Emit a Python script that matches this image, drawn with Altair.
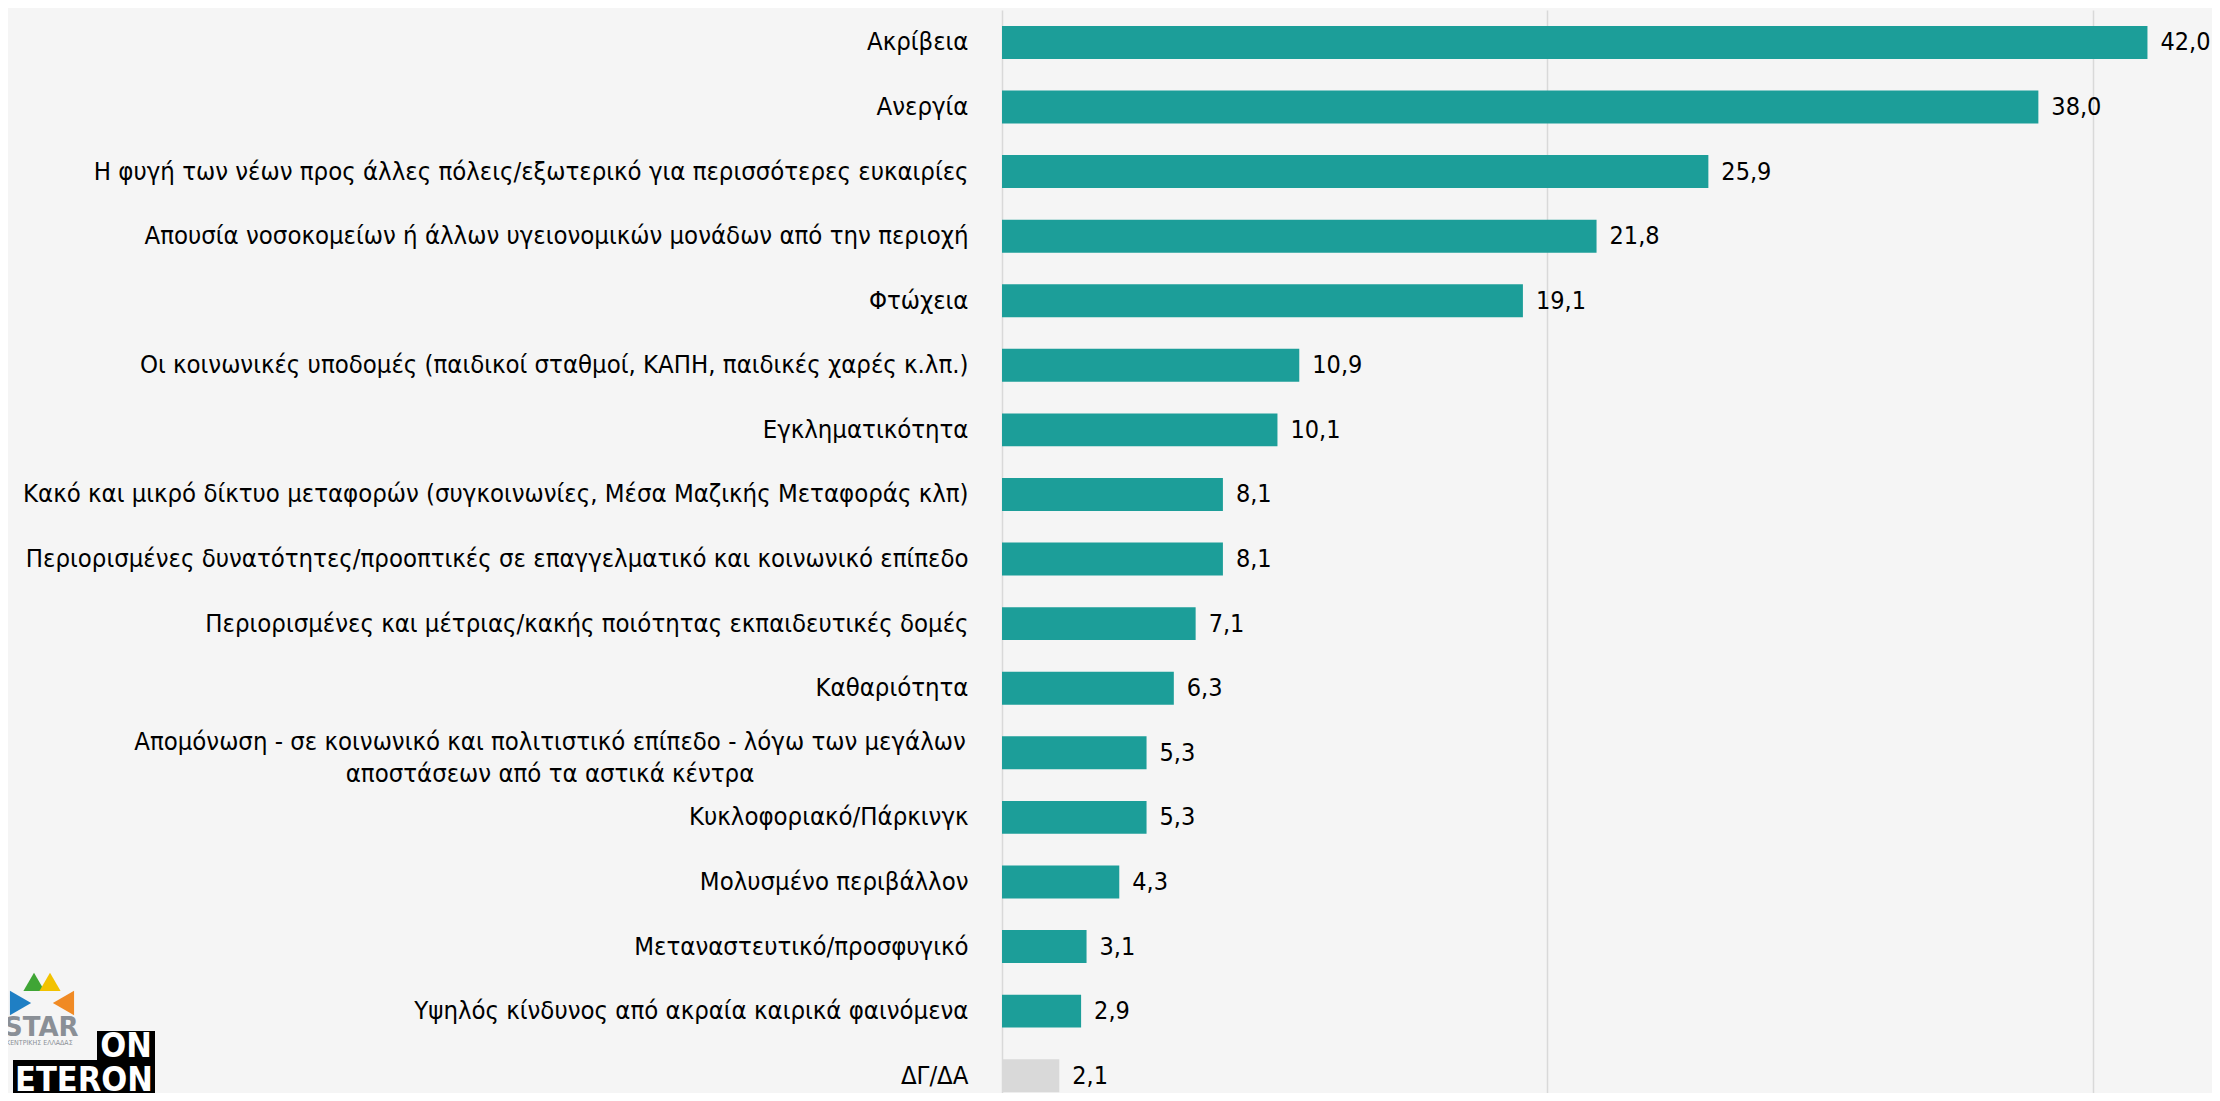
import altair as alt
import pandas as pd

categories = [
    "Ακρίβεια",
    "Ανεργία\u00a0\u00a0",
    "Η φυγή των νέων προς άλλες πόλεις/εξωτερικό για περισσότερες ευκαιρίες",
    "Απουσία νοσοκομείων ή άλλων υγειονομικών μονάδων από την περιοχή\u00a0",
    "Φτώχεια",
    "Οι κοινωνικές υποδομές (παιδικοί σταθμοί, ΚΑΠΗ, παιδικές χαρές κ.λπ.)",
    "Εγκληματικότητα",
    "Κακό και μικρό δίκτυο μεταφορών (συγκοινωνίες, Μέσα Μαζικής Μεταφοράς κλπ)",
    "Περιορισμένες δυνατότητες/προοπτικές σε επαγγελματικό και κοινωνικό επίπεδο\u00a0",
    "Περιορισμένες και μέτριας/κακής ποιότητας εκπαιδευτικές δομές",
    "Καθαριότητα",
    "Απομόνωση - σε κοινωνικό και πολιτιστικό επίπεδο - λόγω των μεγάλων\nαποστάσεων από τα αστικά κέντρα",
    "Κυκλοφοριακό/Πάρκινγκ",
    "Μολυσμένο περιβάλλον",
    "Μεταναστευτικό/προσφυγικό\u00a0",
    "Υψηλός κίνδυνος από ακραία καιρικά φαινόμενα",
    "ΔΓ/ΔΑ",
]
values = [42.0, 38.0, 25.9, 21.8, 19.1, 10.9, 10.1, 8.1, 8.1, 7.1, 6.3, 5.3, 5.3, 4.3, 3.1, 2.9, 2.1]
groups = ["main"] * 16 + ["dk"]
multiline = categories[11]

df = pd.DataFrame({"cat": categories, "v": values, "g": groups})

FONT = "DejaVu Sans Condensed, DejaVu Sans"
FS = 25.5

base = alt.Chart(df)

y_enc = alt.Y(
    "cat:N",
    sort=categories,
    scale=alt.Scale(paddingInner=0.49, paddingOuter=0.13, align=0.95),
    axis=alt.Axis(
        title=None, ticks=False, tickSize=0, domain=False, labelPadding=34,
        labelFontSize=FS, labelFont=FONT, labelColor="#000000", labelLimit=0,
        labelExpr="indexof(datum.value, '\\n') >= 0 ? '' : datum.label",
    ),
)

bars = base.mark_bar().encode(
    y=y_enc,
    x=alt.X(
        "v:Q",
        scale=alt.Scale(domain=[0, 44], nice=False),
        axis=alt.Axis(
            title=None, values=[0, 20, 40], labels=False, ticks=False, domain=False,
            grid=True, gridColor="#D9D9D9", gridWidth=1.5,
        ),
    ),
    color=alt.Color(
        "g:N",
        scale=alt.Scale(domain=["main", "dk"], range=["#1C9E99", "#D9D9D9"]),
        legend=None,
    ),
)

value_text = base.transform_calculate(
    lbl="replace(format(datum.v, '.1f'), '.', ',')"
).mark_text(
    align="left", baseline="middle", dx=13, font=FONT, fontSize=25, color="#000000"
).encode(
    y=alt.Y("cat:N", sort=categories),
    x=alt.X("v:Q"),
    text="lbl:N",
)

multi_text = base.transform_filter(
    alt.datum.cat == multiline
).mark_text(
    align="center", baseline="middle", lineBreak="\n", lineHeight=32, dy=-11,
    font=FONT, fontSize=FS, color="#000000"
).encode(
    y=alt.Y("cat:N", sort=categories),
    x=alt.value(-452),
    text="cat:N",
)

one = alt.Data(values=[{"a": 1}])
logo_boxes = alt.Chart(one).mark_rect(color="#000000").encode(
    x=alt.value(-905), x2=alt.value(-847), y=alt.value(1021), y2=alt.value(1053)
) + alt.Chart(one).mark_rect(color="#000000").encode(
    x=alt.value(-989), x2=alt.value(-847), y=alt.value(1050), y2=alt.value(1090)
)
logo_on = alt.Chart(one).mark_text(
    text="ON", font="DejaVu Sans Condensed, DejaVu Sans", fontWeight="bold",
    fontSize=34, color="#FFFFFF", align="center", baseline="middle"
).encode(x=alt.value(-876), y=alt.value(1037))
logo_eteron = alt.Chart(one).mark_text(
    text="ETERON", font="DejaVu Sans Condensed, DejaVu Sans", fontWeight="bold",
    fontSize=34, color="#FFFFFF", align="center", baseline="middle"
).encode(x=alt.value(-918), y=alt.value(1071))
logo_star = alt.Chart(one).mark_text(
    text="STAR", font="DejaVu Sans", fontWeight="bold",
    fontSize=26, color="#8A8F96", align="left", baseline="middle"
).encode(x=alt.value(-998), y=alt.value(1018))
logo_sub = alt.Chart(one).mark_text(
    text="ΚΕΝΤΡΙΚΗΣ ΕΛΛΑΔΑΣ", font="DejaVu Sans Condensed, DejaVu Sans",
    fontSize=7, color="#8A8F96", align="left", baseline="middle"
).encode(x=alt.value(-996), y=alt.value(1033))
chev = []
for cx, cy, col, ang, sz in [(-985, 993, "#1F7FC4", 90, 600), (-968, 975, "#3FA535", 0, 450),
                             (-952, 975, "#F2C200", 0, 450), (-935, 993, "#F08A24", 270, 600)]:
    chev.append(alt.Chart(one).mark_point(
        shape="triangle", filled=True, size=sz, color=col, angle=ang, opacity=1
    ).encode(x=alt.value(cx), y=alt.value(cy)))

chart = alt.layer(
    bars, value_text, multi_text, logo_boxes, logo_on, logo_eteron, logo_star, logo_sub, *chev
).properties(
    width=1200,
    height=1083,
    padding={"left": 994, "top": 2, "right": 10, "bottom": 0},
    autosize=alt.AutoSizeParams(type="none"),
    background="#F5F5F5",
).configure_view(stroke=None)

chart.save("out.html", embed_options={"renderer": "svg", "actions": False})
